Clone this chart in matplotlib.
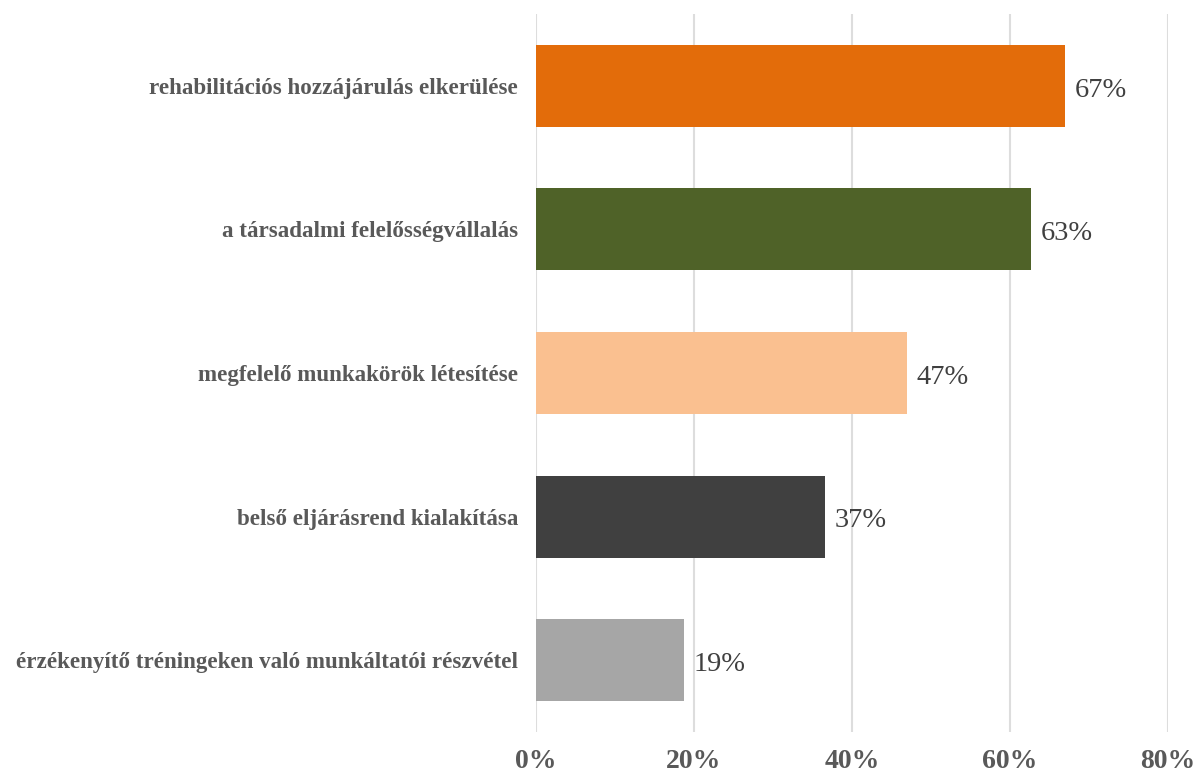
import matplotlib
matplotlib.use("Agg")
import matplotlib.pyplot as plt
from matplotlib.ticker import PercentFormatter

categories = [
    "rehabilitációs hozzájárulás elkerülése",
    "a társadalmi felelősségvállalás",
    "megfelelő munkakörök létesítése",
    "belső eljárásrend kialakítása",
    "érzékenyítő tréningeken való munkáltatói részvétel",
]
values = [0.67, 0.627, 0.47, 0.366, 0.187]
colors = ["#E36C0A", "#4F6228", "#FAC090", "#404040", "#A6A6A6"]
xticks = [0, 0.2, 0.4, 0.6, 0.8]

plt.rcParams["font.family"] = ["Liberation Serif", "DejaVu Serif"]

fig = plt.figure(figsize=(11.95, 7.73), dpi=100)
ax = fig.add_axes([0.4485, 0.053, 0.529, 0.929])

ypos = list(range(len(categories)))
ax.barh(ypos, values, height=0.57, color=colors, zorder=3)
for y, v in zip(ypos, values):
    ax.text(v + 0.012, y + 0.03, "{:.0f}%".format(v * 100), va="center", ha="left",
            fontsize=20.5, color="#404040")

ax.set_xlim(0, 0.8)
ax.set_ylim(4.5, -0.5)
ax.set_xticks(xticks)
ax.xaxis.set_major_formatter(PercentFormatter(1.0, decimals=0))
ax.set_yticks(ypos)
ax.set_yticklabels(categories)
ax.grid(axis="x", color="#DDDDDD", linewidth=1.5, zorder=0)
for s in ax.spines.values():
    s.set_visible(False)
ax.tick_params(axis="both", length=0)
ax.tick_params(axis="y", pad=13)
ax.tick_params(axis="x", pad=12)
for lbl in ax.get_yticklabels():
    lbl.set_fontsize(16.6)
    lbl.set_fontweight("bold")
    lbl.set_color("#595959")
for lbl in ax.get_xticklabels():
    lbl.set_fontsize(20)
    lbl.set_fontweight("bold")
    lbl.set_color("#595959")

fig.savefig("out.png", dpi=100)
